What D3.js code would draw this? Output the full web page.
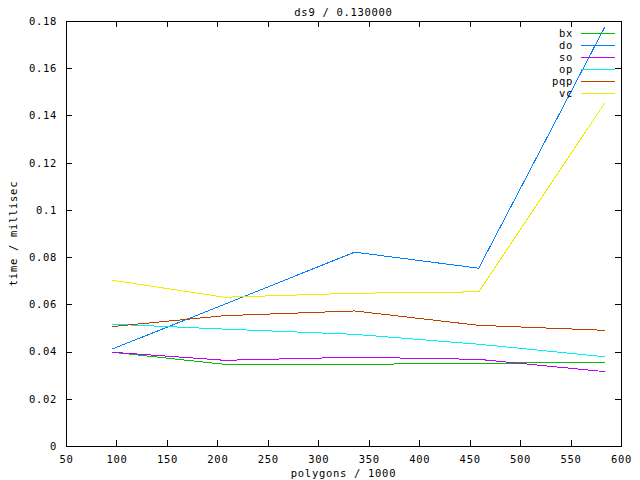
<!DOCTYPE html>
<html>
<head>
<meta charset="utf-8">
<script src="https://cdn.jsdelivr.net/npm/d3@7"></script>
<style>
  body { margin: 0; background: #fff; }
  text { font-family: "DejaVu Sans Mono", monospace; font-size: 10.5px; letter-spacing: 0.7px; fill: #000; }
</style>
</head>
<body>
<div class="main-container"></div>
<script>
// polygon counts (x, in thousands)
const polygons = [96, 207, 336, 459, 584];

const seriesNames = ["bx", "do", "so", "op", "pqp", "vc"];
const bx  = [0.0397, 0.0346, 0.0346, 0.0350, 0.0355];
const dox = [0.0411, 0.0600, 0.0821, 0.0753, 0.1775];
const so  = [0.0397, 0.0363, 0.0376, 0.0367, 0.0315];
const op  = [0.0516, 0.0495, 0.0473, 0.0431, 0.0378];
const pqp = [0.0506, 0.0552, 0.0572, 0.0511, 0.0490];
const vc  = [0.0702, 0.0630, 0.0647, 0.0653, 0.1453];
const seriesValues = [bx, dox, so, op, pqp, vc];
const seriesColors = ["#00c000", "#0080ff", "#c000ff", "#00eeee", "#c04000", "#eeee00"];

const xTicks = [50, 100, 150, 200, 250, 300, 350, 400, 450, 500, 550, 600];
const yTicks = [0, 0.02, 0.04, 0.06, 0.08, 0.1, 0.12, 0.14, 0.16, 0.18];

const width = 640, height = 480;
const margin = {top: 21, right: 19, bottom: 34, left: 66};
const w = width - margin.left - margin.right,
  h = height - margin.top - margin.bottom;

const svg = d3.select(".main-container")
  .append("svg")
  .attr("width", width)
  .attr("height", height);

const g = svg.append("g")
  .attr("transform", "translate(" + margin.left + "," + margin.top + ")");

let x = d3.scaleLinear().domain([50, 600]).range([0, w]);
let y = d3.scaleLinear().domain([0, 0.18]).range([h, 0]);

const fmtY = d => d === 0 ? "0" : String(d);

// axes with inward ticks, mirrored on top and right
g.append("g")
  .attr("transform", "translate(0," + h + ")")
  .call(d3.axisBottom(x).tickValues(xTicks).tickSizeInner(-6).tickSizeOuter(0).tickPadding(10))
  .call(a => a.select(".domain").remove());
g.append("g")
  .call(d3.axisTop(x).tickValues(xTicks).tickSizeInner(-6).tickSizeOuter(0).tickFormat(""))
  .call(a => a.select(".domain").remove());
g.append("g")
  .call(d3.axisLeft(y).tickValues(yTicks).tickSizeInner(-6).tickSizeOuter(0).tickPadding(9).tickFormat(fmtY))
  .call(a => a.select(".domain").remove());
g.append("g")
  .attr("transform", "translate(" + w + ",0)")
  .call(d3.axisRight(y).tickValues(yTicks).tickSizeInner(-6).tickSizeOuter(0).tickFormat(""))
  .call(a => a.select(".domain").remove());

g.selectAll(".tick text")
  .style("font-family", '"DejaVu Sans Mono", monospace')
  .style("font-size", "10.5px");
g.selectAll(".tick line").attr("shape-rendering", "crispEdges");

g.append("rect")
  .attr("width", w)
  .attr("height", h)
  .attr("fill", "none")
  .attr("stroke", "#000")
  .attr("shape-rendering", "crispEdges");

// series lines
const line = d3.line()
  .x((d, i) => x(polygons[i]))
  .y(d => y(d));

seriesValues.forEach((vals, k) => {
  g.append("path")
    .datum(vals)
    .attr("fill", "none")
    .attr("stroke", seriesColors[k])
    .attr("stroke-width", 1)
    .attr("shape-rendering", "crispEdges")
    .attr("d", line);
});

// legend
const legend = g.append("g")
  .attr("transform", "translate(" + (w - 48) + ",12)");
seriesNames.forEach((name, k) => {
  legend.append("text")
    .attr("x", 0)
    .attr("y", k * 12)
    .attr("dy", "0.35em")
    .attr("text-anchor", "end")
    .text(name);
  legend.append("line")
    .attr("x1", 8)
    .attr("x2", 42)
    .attr("y1", k * 12 + 0.5)
    .attr("y2", k * 12 + 0.5)
    .attr("stroke", seriesColors[k])
    .attr("shape-rendering", "crispEdges");
});

// titles
svg.append("text")
  .attr("x", margin.left + w / 2)
  .attr("y", 16)
  .attr("text-anchor", "middle")
  .text("ds9 / 0.130000");

svg.append("text")
  .attr("x", margin.left + w / 2)
  .attr("y", 477)
  .attr("text-anchor", "middle")
  .text("polygons / 1000");

svg.append("text")
  .attr("transform", "translate(17," + (margin.top + h / 2) + ") rotate(-90)")
  .attr("text-anchor", "middle")
  .text("time / millisec");
</script>
</body>
</html>
